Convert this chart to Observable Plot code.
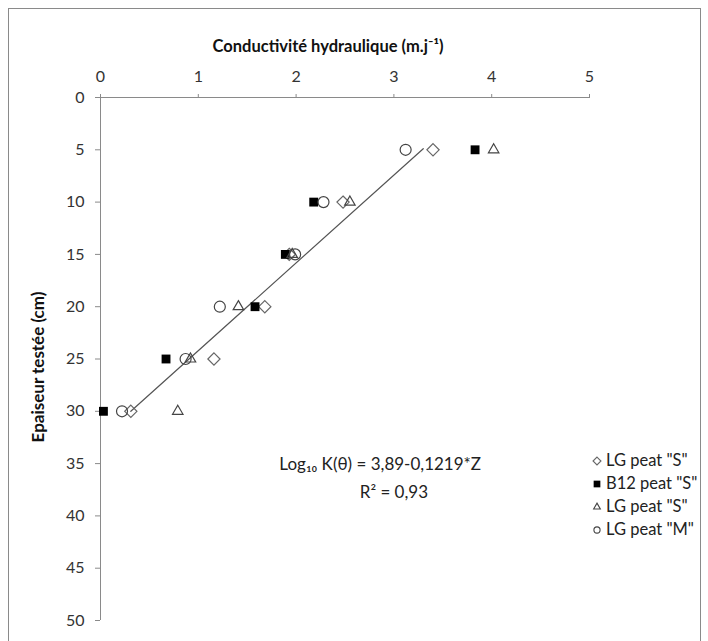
<!DOCTYPE html>
<html><head><meta charset="utf-8">
<script src="https://cdn.jsdelivr.net/npm/d3@7"></script>
<script src="https://cdn.jsdelivr.net/npm/@observablehq/plot@0.6"></script>
<style>
body{margin:0;background:#fff;font-family:Lato,"Open Sans",sans-serif;}
#wrap{position:relative;width:708px;height:641px;overflow:hidden;}
#border{position:absolute;left:8px;top:8px;width:691px;height:660px;border:1px solid #8a8a8a;}
#chart{position:absolute;left:0;top:0;}
#legend{position:absolute;left:591px;top:449px;font-size:16.5px;color:#222;line-height:23px;}
#legend div{display:flex;align-items:center;white-space:nowrap;}
#legend svg{margin-right:3px;}
</style></head><body>
<div id="wrap"><div id="border"></div><div id="chart"></div><div id="legend"></div></div>
<script>
// Data
const depth = [5, 10, 15, 20, 25, 30];
const lgS1 = [3.40, 2.48, 1.93, 1.68, 1.16, 0.31];
const b12S = [3.83, 2.18, 1.89, 1.58, 0.67, 0.03];
const lgS2 = [4.02, 2.55, 1.96, 1.41, 0.92, 0.79];
const lgM  = [3.12, 2.28, 1.99, 1.22, 0.87, 0.22];
const seriesNames = ['LG peat "S"', 'B12 peat "S"', 'LG peat "S"', 'LG peat "M"'];
const trendK = [0.31, 3.30];
const trendZ = [30, 4.9];
const xTicks = [0, 1, 2, 3, 4, 5];
const yTicks = [0, 5, 10, 15, 20, 25, 30, 35, 40, 45, 50];
const xTitle = "Conductivité hydraulique (m.j⁻¹)";
const yTitle = "Epaiseur testée (cm)";
const annText = ["Log₁₀ K(θ) = 3,89-0,1219*Z", "R² = 0,93"];
const annK = [2.86, 3.0];
const annZ = [35.1, 37.8];

const rows = (vals) => vals.map((v, i) => ({k: v, z: depth[i]}));
const ann = annText.map((t, i) => ({t, k: annK[i], z: annZ[i]}));

const chart = Plot.plot({
  width: 708, height: 641,
  marginTop: 97, marginLeft: 100, marginRight: 119, marginBottom: 21,
  style: {fontFamily: "Lato, 'Open Sans', sans-serif", fontSize: "16px", color: "#333", background: "transparent", overflow: "visible"},
  x: {domain: [0, 5]},
  y: {domain: [0, 50], reverse: true},
  marks: [
    Plot.ruleY([0], {stroke: "#8a8a8a"}),
    Plot.ruleX([0], {stroke: "#8a8a8a"}),
    Plot.axisX(xTicks, {anchor: "top", tickSize: 4, tickPadding: 12, label: null, stroke: "#8a8a8a", fontSize: 16}),
    Plot.axisY(yTicks, {anchor: "left", tickSize: 5, tickPadding: 11, label: null, stroke: "#8a8a8a", fontSize: 16}),
    Plot.text([xTitle], {frameAnchor: "top", dy: -57, dx: -17, fontWeight: "bold", fontSize: 16.5, fill: "#111"}),
    Plot.text([yTitle], {frameAnchor: "left", textAnchor: "middle", dx: -62, dy: 8, rotate: -90, fontWeight: "bold", fontSize: 17, fill: "#111"}),
    Plot.line(trendK.map((k, i) => ({k, z: trendZ[i]})), {x: "k", y: "z", stroke: "#555", strokeWidth: 1.2}),
    Plot.dot(rows(lgS1), {x: "k", y: "z", symbol: "diamond2", r: 5.5, stroke: "#666", strokeWidth: 1.2, fill: "none"}),
    Plot.dot(rows(b12S), {x: "k", y: "z", symbol: "square", r: 5, fill: "#000", stroke: "none"}),
    Plot.dot(rows(lgS2), {x: "k", y: "z", symbol: "triangle2", r: 5, stroke: "#444", strokeWidth: 1.2, fill: "none"}),
    Plot.dot(rows(lgM), {x: "k", y: "z", symbol: "circle", r: 5.5, stroke: "#444", strokeWidth: 1.2, fill: "none"}),
    Plot.text(ann, {x: "k", y: "z", text: "t", fontSize: 17, fill: "#222"})
  ]
});
document.getElementById("chart").appendChild(chart);

// Legend
const legendSymbols = [
  {type: d3.symbolDiamond2, fill: "none", stroke: "#666", size: 40},
  {type: d3.symbolSquare, fill: "#000", stroke: "none", size: 45},
  {type: d3.symbolTriangle2, fill: "none", stroke: "#444", size: 32},
  {type: d3.symbolCircle, fill: "none", stroke: "#444", size: 30}
];
const leg = d3.select("#legend");
seriesNames.forEach((name, i) => {
  const row = leg.append("div");
  const s = row.append("svg").attr("width", 12).attr("height", 14);
  s.append("path").attr("transform", "translate(6,7)")
    .attr("d", d3.symbol(legendSymbols[i].type, legendSymbols[i].size)())
    .attr("fill", legendSymbols[i].fill).attr("stroke", legendSymbols[i].stroke).attr("stroke-width", 1.1);
  row.append("span").text(name);
});
</script>
</body></html>
